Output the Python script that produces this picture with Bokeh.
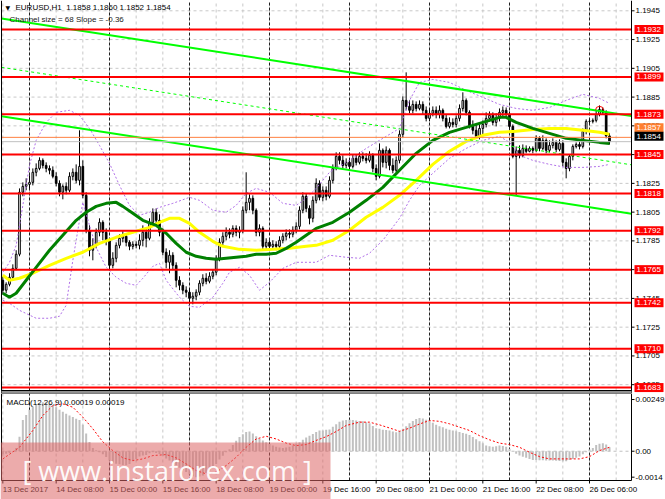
import numpy as np
from bokeh.plotting import figure
from bokeh.models import Label, Range1d
from bokeh.layouts import column
from bokeh.embed import file_html
from bokeh.resources import INLINE
from bokeh.core.properties import value

FONT = "Liberation Sans"

# ---------------- data (EURUSD H1) ----------------
first_open = 1.17576
close = [
    1.17507, 1.17548, 1.17597, 1.17659, 1.17757, 1.18188, 1.18229, 1.18243, 1.18257, 1.18327,
    1.18354, 1.18410, 1.18375, 1.18354, 1.18341, 1.18299, 1.18250, 1.18188, 1.18229, 1.18202,
    1.18299, 1.18327, 1.18271, 1.18368, 1.18167, 1.17924, 1.17785, 1.17819, 1.17910, 1.17979,
    1.17910, 1.17854, 1.17680, 1.17729, 1.17819, 1.17868, 1.17882, 1.17840, 1.17812, 1.17826,
    1.17819, 1.17854, 1.17910, 1.17868, 1.17979, 1.18049, 1.17993, 1.17910, 1.17771, 1.17701,
    1.17750, 1.17680, 1.17576, 1.17541, 1.17507, 1.17493, 1.17451, 1.17465, 1.17493, 1.17555,
    1.17590, 1.17569, 1.17604, 1.17632, 1.17729, 1.17840, 1.17882, 1.17910, 1.17896, 1.17937,
    1.17910, 1.17924, 1.18063, 1.18118, 1.18146, 1.18063, 1.17910, 1.17937, 1.17812, 1.17840,
    1.17812, 1.17826, 1.17812, 1.17854, 1.17882, 1.17903, 1.17896, 1.17924, 1.17951, 1.18063,
    1.18160, 1.18076, 1.18007, 1.18132, 1.18250, 1.18153, 1.18202, 1.18160, 1.18271, 1.18354,
    1.18438, 1.18410, 1.18375, 1.18396, 1.18368, 1.18424, 1.18396, 1.18438, 1.18424, 1.18410,
    1.18445, 1.18354, 1.18299, 1.18480, 1.18396, 1.18480, 1.18375, 1.18341, 1.18410, 1.18591,
    1.18827, 1.18785, 1.18758, 1.18799, 1.18771, 1.18799, 1.18758, 1.18702, 1.18737, 1.18758,
    1.18730, 1.18758, 1.18702, 1.18646, 1.18674, 1.18660, 1.18702, 1.18771, 1.18827, 1.18744,
    1.18646, 1.18619, 1.18577, 1.18632, 1.18660, 1.18702, 1.18723, 1.18674, 1.18702, 1.18744,
    1.18758, 1.18730, 1.18646, 1.18438, 1.18480, 1.18445, 1.18493, 1.18473, 1.18493, 1.18480,
    1.18563, 1.18493, 1.18549, 1.18480, 1.18514, 1.18535, 1.18486, 1.18528, 1.18396, 1.18354,
    1.18438, 1.18507, 1.18521, 1.18507, 1.18612, 1.18681, 1.18681, 1.18688, 1.18730, 1.18764,
    1.18744, 1.18580, 1.18540,
]
high = [
    1.17604, 1.17562, 1.17625, 1.17687, 1.17785, 1.18215, 1.18257, 1.18285, 1.18306, 1.18354,
    1.18389, 1.18431, 1.18424, 1.18396, 1.18375, 1.18368, 1.18327, 1.18271, 1.18243, 1.18257,
    1.18327, 1.18354, 1.18382, 1.18619, 1.18410, 1.18188, 1.17958, 1.17868, 1.17937, 1.18007,
    1.17993, 1.17937, 1.17868, 1.17771, 1.17840, 1.17896, 1.17917, 1.17903, 1.17854, 1.17847,
    1.17847, 1.17896, 1.17958, 1.17937, 1.18007, 1.18076, 1.18076, 1.18035, 1.17937, 1.17798,
    1.17785, 1.17771, 1.17701, 1.17604, 1.17562, 1.17534, 1.17520, 1.17493, 1.17513, 1.17576,
    1.17618, 1.17625, 1.17632, 1.17652, 1.17750, 1.17868, 1.17910, 1.17944, 1.17937, 1.17958,
    1.17958, 1.17951, 1.18090, 1.18327, 1.18174, 1.18167, 1.18076, 1.17965, 1.17951, 1.17868,
    1.17854, 1.17854, 1.17847, 1.17882, 1.17903, 1.17930, 1.17930, 1.17951, 1.17979, 1.18090,
    1.18188, 1.18181, 1.18097, 1.18160, 1.18285, 1.18271, 1.18229, 1.18229, 1.18299, 1.18382,
    1.18466, 1.18466, 1.18445, 1.18424, 1.18424, 1.18452, 1.18452, 1.18466, 1.18466, 1.18459,
    1.18473, 1.18459, 1.18382, 1.18528, 1.18493, 1.18507, 1.18493, 1.18424, 1.18438, 1.18619,
    1.18855, 1.19022, 1.18827, 1.18827, 1.18820, 1.18827, 1.18820, 1.18785, 1.18771, 1.18785,
    1.18785, 1.18792, 1.18771, 1.18730, 1.18709, 1.18702, 1.18723, 1.18799, 1.18883, 1.18841,
    1.18758, 1.18688, 1.18660, 1.18660, 1.18688, 1.18744, 1.18750, 1.18744, 1.18737, 1.18771,
    1.18785, 1.18778, 1.18750, 1.18660, 1.18507, 1.18514, 1.18521, 1.18514, 1.18507, 1.18507,
    1.18584, 1.18577, 1.18584, 1.18563, 1.18549, 1.18563, 1.18549, 1.18556, 1.18549, 1.18424,
    1.18452, 1.18521, 1.18535, 1.18542, 1.18632, 1.18695, 1.18695, 1.18702, 1.18758, 1.18792,
    1.18778, 1.18758, 1.18600,
]
low = [
    1.17479, 1.17486, 1.17534, 1.17576, 1.17646, 1.17743, 1.18160, 1.18202, 1.18215, 1.18236,
    1.18299, 1.18341, 1.18354, 1.18327, 1.18313, 1.18285, 1.18229, 1.18160, 1.18139, 1.18174,
    1.18188, 1.18271, 1.18250, 1.18236, 1.18146, 1.17903, 1.17743, 1.17715, 1.17798, 1.17882,
    1.17854, 1.17819, 1.17646, 1.17659, 1.17701, 1.17798, 1.17840, 1.17812, 1.17785, 1.17791,
    1.17798, 1.17791, 1.17812, 1.17805, 1.17854, 1.17951, 1.17958, 1.17882, 1.17750, 1.17659,
    1.17625, 1.17646, 1.17527, 1.17507, 1.17479, 1.17458, 1.17416, 1.17409, 1.17437, 1.17472,
    1.17534, 1.17548, 1.17555, 1.17583, 1.17611, 1.17708, 1.17812, 1.17854, 1.17868, 1.17875,
    1.17882, 1.17868, 1.17903, 1.18042, 1.18063, 1.18035, 1.17882, 1.17882, 1.17791, 1.17785,
    1.17785, 1.17791, 1.17785, 1.17791, 1.17833, 1.17854, 1.17868, 1.17875, 1.17903, 1.17930,
    1.18042, 1.18049, 1.17965, 1.17979, 1.18111, 1.18132, 1.18125, 1.18132, 1.18146, 1.18250,
    1.18341, 1.18382, 1.18354, 1.18354, 1.18347, 1.18354, 1.18375, 1.18382, 1.18403, 1.18389,
    1.18396, 1.18327, 1.18271, 1.18285, 1.18361, 1.18354, 1.18341, 1.18320, 1.18327, 1.18389,
    1.18570, 1.18758, 1.18737, 1.18737, 1.18750, 1.18758, 1.18730, 1.18681, 1.18681, 1.18716,
    1.18702, 1.18702, 1.18681, 1.18632, 1.18632, 1.18639, 1.18639, 1.18681, 1.18750, 1.18723,
    1.18632, 1.18591, 1.18563, 1.18556, 1.18584, 1.18639, 1.18681, 1.18653, 1.18646, 1.18681,
    1.18709, 1.18709, 1.18632, 1.18424, 1.18167, 1.18424, 1.18431, 1.18459, 1.18466, 1.18459,
    1.18466, 1.18473, 1.18480, 1.18459, 1.18466, 1.18493, 1.18466, 1.18473, 1.18368, 1.18285,
    1.18334, 1.18410, 1.18493, 1.18486, 1.18493, 1.18591, 1.18667, 1.18667, 1.18674, 1.18716,
    1.18730, 1.18563, 1.18520,
]

ma_green_x = [0, 2, 4, 7, 10, 14, 18, 22, 25, 28, 31, 34, 36, 39, 42, 46, 49, 52, 55, 58, 61,
              64, 67, 70, 73, 76, 79, 82, 85, 88, 91, 94, 99, 104, 109, 114, 119, 124, 129,
              134, 139, 144, 149, 151, 154, 159, 164, 169, 174, 179, 182]
ma_green = [1.17486, 1.17458, 1.17486, 1.17576, 1.17666, 1.17785, 1.17889, 1.17993, 1.18049,
            1.18090, 1.18111, 1.18118, 1.18090, 1.18042, 1.17993, 1.17958, 1.17903, 1.17833,
            1.17771, 1.17743, 1.17729, 1.17722, 1.17729, 1.17736, 1.17743, 1.17757, 1.17757,
            1.17764, 1.17798, 1.17840, 1.17889, 1.17937, 1.17979, 1.18049, 1.18132, 1.18222,
            1.18341, 1.18459, 1.18549, 1.18605, 1.18639, 1.18674, 1.18709, 1.18709, 1.18674,
            1.18632, 1.18598, 1.18563, 1.18549, 1.18535, 1.18528]
ma_yellow_x = [0, 2, 5, 9, 14, 19, 24, 29, 34, 39, 44, 47, 50, 53, 56, 59, 63, 66, 71, 76, 81,
               86, 91, 94, 99, 104, 109, 114, 119, 124, 129, 134, 139, 144, 149, 154, 159, 164,
               169, 174, 179, 182]
ma_yellow = [1.17611, 1.17576, 1.17590, 1.17625, 1.17680, 1.17729, 1.17771, 1.17833, 1.17875,
             1.17910, 1.17944, 1.17979, 1.18007, 1.18007, 1.17972, 1.17910, 1.17847, 1.17812,
             1.17791, 1.17785, 1.17791, 1.17798, 1.17812, 1.17819, 1.17854, 1.17924, 1.18014,
             1.18083, 1.18167, 1.18271, 1.18382, 1.18473, 1.18542, 1.18584, 1.18605, 1.18612,
             1.18625, 1.18632, 1.18632, 1.18619, 1.18605, 1.18591]

band_up_x = [0, 2, 4, 6, 8, 10, 13, 16, 20, 23, 26, 29, 32, 35, 38, 41, 44, 47, 51, 56, 59, 63,
             67, 70, 73, 76, 80, 84, 88, 91, 94, 98, 104, 109, 114, 119, 122, 125, 129, 134,
             139, 144, 149, 154, 159, 164, 169, 174, 179, 182]
band_up = [1.17632, 1.17701, 1.17819, 1.18097, 1.18375, 1.18549, 1.18674, 1.18744, 1.18758,
           1.18723, 1.18632, 1.18514, 1.18389, 1.18236, 1.18097, 1.18028, 1.18049, 1.18083,
           1.18111, 1.18153, 1.18132, 1.18063, 1.18049, 1.18097, 1.18181, 1.18215, 1.18188,
           1.18111, 1.18097, 1.18146, 1.18215, 1.18327, 1.18410, 1.18493, 1.18563, 1.18632,
           1.18827, 1.18952, 1.18973, 1.18952, 1.18897, 1.18848, 1.18799, 1.18771, 1.18758,
           1.18778, 1.18827, 1.18869, 1.18841, 1.18806]
band_lo_x = [0, 2, 5, 10, 14, 17, 19, 21, 23, 24, 26, 28, 31, 34, 37, 40, 42, 45, 47, 49, 53,
             56, 59, 63, 66, 68, 71, 74, 77, 80, 84, 88, 91, 94, 98, 103, 107, 110, 114, 119,
             122, 125, 130, 134, 139, 144, 149, 152, 155, 159, 164, 169, 174, 179, 182]
band_lo = [1.17437, 1.17416, 1.17367, 1.17312, 1.17312, 1.17326, 1.17402, 1.17715, 1.17993,
           1.18118, 1.17958, 1.17805, 1.17666, 1.17597, 1.17555, 1.17541, 1.17590, 1.17673,
           1.17694, 1.17576, 1.17458, 1.17395, 1.17388, 1.17458, 1.17555, 1.17632, 1.17666,
           1.17611, 1.17507, 1.17562, 1.17659, 1.17701, 1.17701, 1.17701, 1.17750, 1.17736,
           1.17729, 1.17764, 1.17854, 1.18007, 1.18132, 1.18236, 1.18341, 1.18424, 1.18493,
           1.18549, 1.18577, 1.18535, 1.18445, 1.18410, 1.18382, 1.18361, 1.18361, 1.18368,
           1.18382]

channel_x = [-0.4, 188.6]
channel_upper = [1.19397, 1.18719]
channel_mid = [1.19057, 1.18379]
channel_lower = [1.18717, 1.18039]

levels = [1.1932, 1.1899, 1.1873, 1.1845, 1.1818, 1.1792, 1.1765, 1.1742, 1.1710, 1.1683]
orange_level = 1.1857
bid_level = 1.1854
price_ticks = [1.1945, 1.1925, 1.1905, 1.1885, 1.1865, 1.1845, 1.1825, 1.1805, 1.1785,
               1.1765, 1.1745, 1.1725, 1.1705, 1.1685]

time_ticks = [0, 16, 32, 48, 64, 80, 96, 112, 128, 144, 160, 176]
time_labels = ["13 Dec 2017", "14 Dec 08:00", "15 Dec 00:00", "15 Dec 16:00", "18 Dec 08:00",
               "19 Dec 00:00", "19 Dec 16:00", "20 Dec 08:00", "21 Dec 00:00", "21 Dec 16:00",
               "22 Dec 08:00", "26 Dec 06:00"]
day_starts = [8, 32, 56, 80, 104, 128, 152, 176]
grid_bars = list(range(0, 189, 8))

macd_hist = [
    -0.00015, -0.00012, -0.00008, -0.00002, 0.00015, 0.00070, 0.00150, 0.00175, 0.00200, 0.00215,
    0.00225, 0.00232, 0.00236, 0.00236, 0.00230, 0.00222, 0.00212, 0.00200, 0.00190, 0.00180,
    0.00172, 0.00165, 0.00156, 0.00150, 0.00128, 0.00085, 0.00045, 0.00015, 0.00005, -0.00005,
    -0.00015, -0.00028, -0.00045, -0.00055, -0.00060, -0.00063, -0.00066, -0.00068, -0.00062, -0.00048,
    -0.00038, -0.00025, -0.00020, -0.00018, -0.00010, -0.00005, -0.00008, -0.00013, -0.00022, -0.00035,
    -0.00045, -0.00055, -0.00068, -0.00080, -0.00090, -0.00100, -0.00112, -0.00120, -0.00125, -0.00122,
    -0.00117, -0.00105, -0.00093, -0.00078, -0.00062, -0.00040, -0.00022, -0.00005, 0.00010, 0.00030,
    0.00050, 0.00068, 0.00082, 0.00093, 0.00095, 0.00085, 0.00072, 0.00060, 0.00052, 0.00043,
    0.00035, 0.00027, 0.00022, 0.00018, 0.00016, 0.00018, 0.00022, 0.00027, 0.00035, 0.00043,
    0.00055, 0.00066, 0.00075, 0.00083, 0.00092, 0.00100, 0.00100, 0.00103, 0.00105, 0.00118,
    0.00130, 0.00142, 0.00148, 0.00150, 0.00151, 0.00150, 0.00148, 0.00146, 0.00144, 0.00140,
    0.00135, 0.00122, 0.00111, 0.00108, 0.00104, 0.00102, 0.00100, 0.00095, 0.00091, 0.00097,
    0.00108, 0.00120, 0.00135, 0.00145, 0.00155, 0.00160, 0.00158, 0.00152, 0.00145, 0.00137,
    0.00128, 0.00120, 0.00115, 0.00108, 0.00104, 0.00100, 0.00096, 0.00092, 0.00088, 0.00084,
    0.00078, 0.00068, 0.00058, 0.00048, 0.00038, 0.00028, 0.00024, 0.00022, 0.00024, 0.00027,
    0.00025, 0.00022, 0.00012, 0.00000, -0.00012, -0.00021, -0.00027, -0.00032, -0.00037, -0.00042,
    -0.00042, -0.00043, -0.00044, -0.00045, -0.00045, -0.00045, -0.00046, -0.00047, -0.00048, -0.00048,
    -0.00042, -0.00037, -0.00032, -0.00026, -0.00015, -0.00005, 0.00008, 0.00016, 0.00030, 0.00036,
    0.00039, 0.00032, 0.00019,
]
signal_x = [0, 5, 9, 12, 15, 18, 21, 24, 27, 30, 33, 36, 39, 42, 45, 49, 52, 55, 58, 61, 64, 67,
            70, 73, 76, 79, 82, 85, 88, 91, 94, 97, 100, 103, 107, 110, 113, 116, 119, 122, 125,
            128, 131, 134, 137, 140, 143, 146, 149, 152, 155, 158, 161, 164, 167, 170, 173, 176,
            179, 182]
signal = [-0.00037, 0.00019, 0.00100, 0.00172, 0.00220, 0.00228, 0.00212, 0.00164, 0.00108,
          0.00045, 0.00003, -0.00032, -0.00045, -0.00037, -0.00021, -0.00016, -0.00032, -0.00061,
          -0.00093, -0.00109, -0.00101, -0.00069, -0.00029, 0.00019, 0.00059, 0.00072, 0.00059,
          0.00039, 0.00027, 0.00032, 0.00052, 0.00070, 0.00095, 0.00124, 0.00140, 0.00140,
          0.00127, 0.00112, 0.00096, 0.00111, 0.00131, 0.00148, 0.00144, 0.00132, 0.00116,
          0.00100, 0.00075, 0.00055, 0.00039, 0.00032, 0.00019, -0.00005, -0.00026, -0.00037,
          -0.00037, -0.00037, -0.00037, -0.00026, 0.00003, 0.00019]
macd_ticks = [0.00249, 0.0, -0.00125]
macd_tick_text = ["0.00249", "0.00", "-0.0014"]

# ---------------- layout constants (1 px = 1 reference px) ----------------
W = 665
X0, X1 = -0.4, 188.6                  # plot area in bar units (x = 1 .. 631 px)
PXX = (X1 - X0) / 630.0
XL, XR = X0 - 1 * PXX, X1 + 34 * PXX

H1 = 393                               # price panel: plot 0..390, separator 390..393
PXY = 1 / 14380.0
YTOP = 1.1932 + 29 * PXY
YBOT = YTOP - 390 * PXY
H2 = 106                               # MACD panel: plot 0..87, time scale below
M_TOP, M_BOT = 0.00278, -0.00141
PXM = (M_TOP - M_BOT) / 87.0
M_LO = M_BOT - 19 * PXM

def txt(fig, xs, ys, labels, color="#000000", size="8px", font=FONT, align="left",
        baseline="middle", xoff=0, yoff=0, alpha=1.0):
    fig.text(x=xs, y=ys, text=labels, text_font=value(font), text_font_size=size,
             text_color=color, text_align=align, text_baseline=baseline,
             x_offset=xoff, y_offset=yoff, text_alpha=alpha)

def vgrid(fig, y0, y1):
    fig.segment(x0=grid_bars, y0=[y0] * len(grid_bars), x1=grid_bars, y1=[y1] * len(grid_bars),
                line_color="#C8C8C8", line_dash="3 3", line_width=1)
    fig.segment(x0=day_starts, y0=[y0] * len(day_starts), x1=day_starts,
                y1=[y1] * len(day_starts), line_color="#202020", line_dash="3 2", line_width=1)

# ---------------- price panel ----------------
bars = list(range(len(close)))
opens = [first_open] + close[:-1]
hi = [max(h, o, c) for h, o, c in zip(high, opens, close)]
lo = [min(l, o, c) for l, o, c in zip(low, opens, close)]

p = figure(width=W, height=H1, x_range=Range1d(XL, XR), y_range=Range1d(YBOT - 3 * PXY, YTOP),
           output_backend="svg", toolbar_location=None, x_axis_location=None,
           y_axis_location=None, min_border=0)
p.outline_line_color = None
p.grid.visible = False
p.border_fill_color = "white"

n = len(price_ticks)
p.segment(x0=[X0] * n, y0=price_ticks, x1=[X1] * n, y1=price_ticks,
          line_color="#C8C8C8", line_dash="3 3", line_width=1)
vgrid(p, YBOT, YTOP)

inc = [i for i in bars if close[i] >= opens[i]]
dec = [i for i in bars if close[i] < opens[i]]
p.segment(x0=bars, y0=lo, x1=bars, y1=hi, line_color="black", line_width=1)
p.vbar(x=inc, width=0.5, top=[close[i] for i in inc], bottom=[opens[i] for i in inc],
       fill_color="white", line_color="black", line_width=1)
p.vbar(x=dec, width=0.5, top=[opens[i] for i in dec], bottom=[close[i] for i in dec],
       fill_color="black", line_color="black", line_width=1)

p.line(band_up_x, band_up, line_color="#B070E8", line_dash="2 2", line_width=1)
p.line(band_lo_x, band_lo, line_color="#B070E8", line_dash="2 2", line_width=1)
p.line(ma_yellow_x, ma_yellow, line_color="#FFFF00", line_width=3)
p.line(ma_green_x, ma_green, line_color="#008000", line_width=3)
p.line(channel_x, channel_upper, line_color="#00FF00", line_width=2)
p.line(channel_x, channel_lower, line_color="#00FF00", line_width=2)
p.line(channel_x, channel_mid, line_color="#00FF00", line_width=1, line_dash="3 3")
p.arc(x=[179], y=[1.18758], radius=4, radius_units="screen", start_angle=0,
      end_angle=np.pi, line_color="#FF0000", line_width=1)

p.segment(x0=[X0], y0=[bid_level], x1=[X1], y1=[bid_level], line_color="#C0C0C0", line_width=1)
p.segment(x0=[X0], y0=[orange_level], x1=[X1], y1=[orange_level], line_color="#FF8040",
          line_width=1)
nl = len(levels)
p.segment(x0=[X0] * nl, y0=levels, x1=[X1] * nl, y1=levels, line_color="#FF0000", line_width=2)

# frame: left edge, right scale line, separator band
p.segment(x0=[X0, X1], y0=[YBOT - 3 * PXY] * 2, x1=[X0, X1], y1=[YTOP] * 2,
          line_color="#000000", line_width=1)
p.quad(left=[X0], right=[X1], bottom=[YBOT - 3 * PXY], top=[YBOT], fill_color="#909090",
       line_color=None)
p.segment(x0=[X0], y0=[YBOT], x1=[X1], y1=[YBOT], line_color="#000000", line_width=1)

# price scale
p.segment(x0=[X1] * n, y0=price_ticks, x1=[X1 + 3 * PXX] * n, y1=price_ticks,
          line_color="#000000", line_width=1)
txt(p, [X1] * n, price_ticks, [f"{t:.4f}" for t in price_ticks], xoff=4)

BOXX = X1 + 17.5 * PXX
p.rect(x=[BOXX] * nl, y=levels, width=29, height=9, width_units="screen",
       height_units="screen", fill_color="#FF0000", line_color=None)
txt(p, [X1] * nl, levels, [f"{lv:.4f}" for lv in levels], color="white", xoff=5)
y_or = orange_level + 9.5 * PXY
p.rect(x=[BOXX], y=[y_or], width=29, height=9, width_units="screen", height_units="screen",
       fill_color="#FF7F30", line_color=None)
txt(p, [X1], [y_or], [f"{orange_level:.4f}"], color="white", xoff=5)
y_bid = bid_level + 5.5 * PXY
p.rect(x=[BOXX], y=[y_bid], width=29, height=9, width_units="screen", height_units="screen",
       fill_color="#000000", line_color=None)
txt(p, [X1], [y_bid], [f"{bid_level:.4f}"], color="white", xoff=5)

p.add_layout(Label(x=X0, y=YTOP, x_offset=4, y_offset=-7, text="\u25bc",
                   text_font="DejaVu Sans", text_font_size="6px", text_color="#000000",
                   text_baseline="middle"))
p.add_layout(Label(x=X0, y=YTOP, x_offset=14, y_offset=-7,
                   text="EURUSD,H1\u00a0\u00a01.1858 1.1860 1.1852 1.1854",
                   text_font=FONT, text_font_size="8px", text_color="#000000",
                   text_baseline="middle"))
p.add_layout(Label(x=X0, y=YTOP, x_offset=8, y_offset=-19,
                   text="Channel size = 68 Slope = -0.36",
                   text_font=FONT, text_font_size="8px", text_color="#202020",
                   text_baseline="middle"))

# ---------------- MACD panel ----------------
m = figure(width=W, height=H2, x_range=p.x_range, y_range=Range1d(M_LO, M_TOP),
           output_backend="svg", toolbar_location=None, x_axis_location=None,
           y_axis_location=None, min_border=0)
m.outline_line_color = None
m.grid.visible = False
m.border_fill_color = "white"

vgrid(m, M_BOT, M_TOP)
m.segment(x0=[X0], y0=[0], x1=[X1], y1=[0], line_color="#C0C0C0", line_dash="3 3", line_width=1)
m.vbar(x=bars, top=macd_hist, bottom=0, width=0.6, fill_color="#C0C0C0", line_color=None)
m.line(signal_x, signal, line_color="#FF0000", line_dash="2 2", line_width=1)

m.segment(x0=[X0, X1], y0=[M_BOT] * 2, x1=[X0, X1], y1=[M_TOP] * 2, line_color="#000000",
          line_width=1)
m.segment(x0=[X0, X0], y0=[M_BOT, M_TOP], x1=[X1, X1], y1=[M_BOT, M_TOP],
          line_color="#000000", line_width=1)

nm = len(macd_ticks)
m.segment(x0=[X1] * nm, y0=macd_ticks, x1=[X1 + 3 * PXX] * nm, y1=macd_ticks,
          line_color="#000000", line_width=1)
txt(m, [X1] * nm, macd_ticks, macd_tick_text, xoff=4)

nt = len(time_ticks)
m.segment(x0=time_ticks, y0=[M_BOT] * nt, x1=time_ticks, y1=[M_BOT - 3 * PXM] * nt,
          line_color="#000000", line_width=1)
txt(m, time_ticks, [M_BOT - 9 * PXM] * nt, time_labels, xoff=0)

m.add_layout(Label(x=X0, y=M_TOP, x_offset=5, y_offset=-9,
                   text="MACD(12,26,9) 0.00019 0.00019", text_font=FONT,
                   text_font_size="8px", text_color="#000000", text_baseline="middle"))

# watermark
m.quad(left=[XL], right=[XL + 330 * PXX], top=[M_TOP - 49 * PXM], bottom=[M_LO],
       fill_color="#DD6666", fill_alpha=0.55, line_color=None)
txt(m, [XL + 22 * PXX], [M_TOP - 77 * PXM], ["[ www.instaforex.com ]"], color="white",
    size="27px", font="Open Sans", alpha=0.95)

layout = column(p, m)
open("out.html", "w").write(file_html(layout, INLINE))
